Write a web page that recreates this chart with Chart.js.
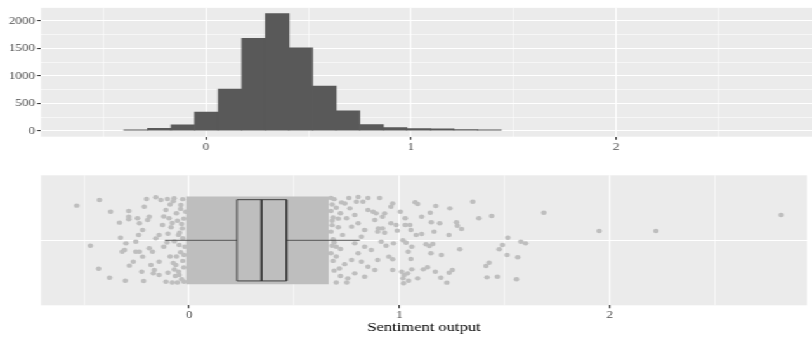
<!DOCTYPE html>
<html>
<head>
<meta charset="utf-8">
<script src="https://cdn.jsdelivr.net/npm/chart.js@4.4.1/dist/chart.umd.min.js"></script>
<style>
  html, body { margin: 0; padding: 0; background: #ffffff; }
  #wrap { position: absolute; left: 0; top: 0; width: 640px; height: 338px; transform: scaleX(1.26875); transform-origin: 0 0; }
  #wrap canvas { position: absolute; left: 0; }
</style>
</head>
<body>
<div id="wrap">
  <canvas id="sentHist" width="640" height="160" style="top:0;width:640px;height:160px"></canvas>
  <canvas id="sentJitter" width="640" height="178" style="top:160px;width:640px;height:178px"></canvas>
</div>
<script>
// Histogram (bins of width 0.115)
const histBinCenters = [-0.3425, -0.2275, -0.1125, 0.0025, 0.1175, 0.2325, 0.3475, 0.4625,
    0.5775, 0.6925, 0.8075, 0.9225, 1.0375, 1.1525, 1.2675, 1.3825];
const histCounts = [20, 45, 110, 340, 760, 1680, 2130, 1510, 815, 365, 113, 60, 40, 38, 22, 20];

// Axis ticks
const histXTicks = [-0.5, 0, 0.5, 1, 1.5, 2, 2.5];
const histYTicks = [0, 250, 500, 750, 1000, 1250, 1500, 1750, 2000];
const jitterXTicks = [-0.5, 0, 0.5, 1, 1.5, 2, 2.5];

// Boxplot summary
const boxQ1 = 0.228;
const boxMedian = 0.345;
const boxQ3 = 0.463;
const whiskerLow = -0.115;
const whiskerHigh = 0.812;

// Dense part of the jittered cloud (too many points to read one by one)
const denseFrom = -0.015;
const denseTo = 0.665;

// Jittered points (x = sentiment, y = jitter)
const jitterX = [
    -0.534, -0.426, -0.373, -0.287, -0.287, -0.287, -0.331, -0.245, -0.202, -0.158, -0.213, -0.189,
    -0.197, -0.236, -0.221, -0.240, -0.326, -0.469, -0.300, -0.253, -0.318, -0.307, -0.253, -0.236,
    -0.221, -0.265, -0.284, -0.430, -0.378, -0.303, -0.225, -0.216, -0.181, -0.170,
    -0.134, -0.103, -0.071, -0.110, -0.095, -0.126, -0.142, -0.158, -0.189, -0.174, -0.142, -0.165,
    -0.142, -0.110, -0.080, -0.055, -0.024, -0.039, -0.016, -0.032, -0.047, -0.024, -0.063, -0.047,
    -0.090, -0.060, -0.080, -0.100, -0.070, -0.120, -0.090, -0.070, -0.100, -0.120, -0.050, -0.060,
    -0.030, -0.040, -0.025, -0.035, -0.045, -0.030, -0.020, -0.040, -0.030, -0.025, -0.050, -0.035,
    -0.075, -0.085, -0.065, -0.105, -0.055, -0.075,
    0.690, 0.700, 0.720, 0.680, 0.710, 0.730, 0.690, 0.720, 0.700, 0.740, 0.690, 0.720, 0.700, 0.750, 0.760,
    0.675, 0.680, 0.675, 0.685, 0.680, 0.675, 0.685, 0.680, 0.675, 0.685, 0.700, 0.710, 0.725, 0.715,
    0.741, 0.765, 0.788, 0.749, 0.804, 0.773, 0.835, 0.820, 0.788, 0.835, 0.804, 0.773, 0.820, 0.851,
    0.788, 0.755, 0.835, 0.883, 0.897, 0.867, 0.914, 0.883, 0.851, 0.827,
    0.804, 0.851, 0.906, 0.796, 0.875, 0.890, 0.930, 0.920, 0.968, 0.960, 1.005, 1.028, 1.075, 1.087,
    1.106, 1.147, 1.173, 1.240, 1.349, 1.378, 1.439, 1.687,
    0.900, 0.920, 0.897, 0.930, 0.960, 0.985, 0.990, 1.028, 1.050, 1.055, 1.080, 1.106, 1.152, 1.192,
    1.165, 1.236, 1.272, 1.276, 1.296,
    1.017, 1.032, 0.972, 0.937, 1.059, 1.127, 1.143, 1.159, 1.042, 1.150, 1.200, 1.287, 1.055, 0.968,
    0.950, 0.968, 1.011, 1.023, 1.039, 1.059, 1.017, 1.044, 1.020, 1.087, 1.114, 1.134, 1.171, 1.197,
    1.226, 1.237, 1.252, 1.412, 1.427, 1.417, 1.466, 1.475, 1.490, 1.512, 1.516, 1.563, 1.578, 1.600,
    1.557, 1.950, 2.220, 2.815
];
const jitterY = [
    0.320, 0.372, 0.264, 0.270, 0.218, 0.194, 0.163, 0.203, 0.381, 0.397, 0.310, 0.218,
    0.187, 0.157, 0.095, 0.049, 0.024, -0.050, -0.028, -0.013, -0.105, -0.090, -0.105, -0.105,
    -0.151, -0.198, -0.234, -0.262, -0.345, -0.373, -0.290, -0.376, -0.228, -0.305,
    0.372, 0.381, 0.388, 0.280, 0.203, 0.141, 0.049, 0.018, -0.074, -0.105, -0.198, -0.274,
    -0.320, -0.382, -0.390, -0.390, -0.382, 0.326, 0.264, 0.110, -0.043, -0.136, -0.228, -0.320,
    0.330, 0.250, 0.160, 0.060, -0.010, -0.060, -0.150, -0.270, -0.300, 0.220, 0.050, -0.150,
    0.380, 0.290, 0.200, 0.150, 0.070, 0.020, -0.060, -0.110, -0.190, -0.250, -0.290, -0.360,
    0.360, 0.120, -0.330, -0.020, 0.180, -0.210,
    0.380, 0.300, 0.250, 0.180, 0.120, 0.050, -0.020, -0.080, -0.150, -0.220, -0.280, -0.330, -0.390, -0.390, 0.390,
    0.390, 0.330, 0.270, 0.210, 0.140, 0.080, 0.010, -0.050, -0.120, -0.190, -0.060, 0.200, 0.350, -0.260,
    0.340, 0.295, 0.234, 0.203, 0.157, 0.126, 0.095, 0.033, -0.028, -0.059, -0.120, -0.182, -0.198, -0.244,
    -0.305, -0.351, -0.336, -0.274, -0.182, -0.090, -0.013, 0.187, 0.280, 0.356,
    0.400, 0.390, 0.390, 0.356, 0.264, 0.249, 0.249, 0.218, 0.340, 0.310, 0.264, 0.203, 0.351, 0.335,
    0.218, 0.255, 0.317, 0.295, 0.356, 0.203, 0.224, 0.255,
    0.110, 0.110, 0.080, 0.070, 0.157, 0.141, 0.089, 0.141, 0.141, 0.095, 0.049, 0.058, 0.166, 0.157,
    0.080, 0.049, 0.166, 0.135, 0.104,
    0.000, -0.022, -0.028, -0.050, -0.059, -0.037, -0.053, -0.034, -0.105, -0.120, -0.136, -0.083, -0.173, -0.175,
    -0.151, -0.274, -0.290, -0.320, -0.305, -0.268, -0.351, -0.373, -0.397, -0.351, -0.268, -0.249, -0.290, -0.345,
    -0.391, -0.299, -0.274, -0.237, -0.207, -0.342, -0.336, -0.083, -0.043, -0.136, 0.024, -0.157, -0.013, -0.028,
    -0.360, 0.086, 0.086, 0.234
];

const serif = 'Liberation Serif';
const boxHalf = 0.375;
const cloudHalf = 0.405;

// grey panel behind the grid, ggplot style
const panelBg = {
    id: 'panelBg',
    beforeDraw(chart) {
        const { ctx, chartArea: a } = chart;
        ctx.save();
        ctx.fillStyle = '#EBEBEB';
        ctx.fillRect(a.left, a.top, a.right - a.left, a.bottom - a.top);
        ctx.restore();
    }
};

function isMajor(v, step) {
    return Math.abs(v / step - Math.round(v / step)) < 1e-6;
}

function _grid(step) {
    return {
        color: '#FFFFFF',
        lineWidth: c => (c.tick && isMajor(c.tick.value, step)) ? 1.1 : 0.55,
        tickColor: c => (c.tick && isMajor(c.tick.value, step)) ? '#333333' : 'rgba(0,0,0,0)',
        tickLength: 3,
        drawTicks: true
    };
}

function _tickFont() {
    return { family: serif, size: 10.4 };
}

// Histograma
new Chart(document.getElementById('sentHist').getContext('2d'), {
    type: 'bar',
    data: {
        datasets: [{
            data: histBinCenters.map((c, i) => ({ x: c, y: histCounts[i] })),
            backgroundColor: '#595959',
            borderWidth: 0,
            barPercentage: 1,
            categoryPercentage: 1
        }]
    },
    options: {
        responsive: false,
        animation: false,
        layout: { padding: { top: 7, left: 0, right: 0, bottom: 0 } },
        plugins: { legend: { display: false }, tooltip: { enabled: false } },
        scales: {
            x: {
                type: 'linear',
                min: -0.805,
                max: 2.956,
                offset: false,
                afterBuildTicks: s => { s.ticks = histXTicks.map(v => ({ value: v })); },
                afterFit: s => { s.height = 23.3; },
                ticks: {
                    autoSkip: false, maxRotation: 0, padding: 1, color: '#4D4D4D', font: _tickFont(),
                    callback: v => isMajor(v, 1) ? String(v) : ''
                },
                grid: Object.assign(_grid(1), { offset: false }),
                border: { display: false }
            },
            y: {
                min: -106.5,
                max: 2236.5,
                afterBuildTicks: s => { s.ticks = histYTicks.map(v => ({ value: v })); },
                afterFit: s => { s.width = 32.3; },
                ticks: {
                    autoSkip: false, padding: 1.6, color: '#4D4D4D', font: _tickFont(),
                    callback: v => isMajor(v, 500) ? String(v) : ''
                },
                grid: _grid(500),
                border: { display: false }
            }
        }
    },
    plugins: [panelBg]
});

// Boxplot + jitter
const pointsData = jitterX.map((x, i) => ({ x: x, y: jitterY[i] }));

function _line(data, color, width, order, extra) {
    return Object.assign({
        type: 'scatter',
        data: data,
        showLine: true,
        borderColor: color,
        borderWidth: width,
        pointRadius: 0,
        fill: false,
        order: order
    }, extra || {});
}

new Chart(document.getElementById('sentJitter').getContext('2d'), {
    type: 'scatter',
    data: {
        datasets: [
            // caja: borde y mediana
            _line([{ x: boxQ1, y: -boxHalf }, { x: boxQ1, y: boxHalf }, { x: boxQ3, y: boxHalf },
                   { x: boxQ3, y: -boxHalf }, { x: boxQ1, y: -boxHalf }], '#333333', 0.9, 0),
            _line([{ x: boxMedian, y: -boxHalf }, { x: boxMedian, y: boxHalf }], '#333333', 1.6, 0),
            // relleno de la caja (entre borde superior e inferior)
            _line([{ x: boxQ1, y: boxHalf }, { x: boxQ3, y: boxHalf }], 'rgba(0,0,0,0)', 0, 1,
                  { fill: '+1', backgroundColor: '#BEBEBE' }),
            _line([{ x: boxQ1, y: -boxHalf }, { x: boxQ3, y: -boxHalf }], 'rgba(0,0,0,0)', 0, 1),
            // bigotes
            _line([{ x: whiskerLow, y: 0 }, { x: boxQ1, y: 0 }], '#555555', 1, 2),
            _line([{ x: boxQ3, y: 0 }, { x: whiskerHigh, y: 0 }], '#555555', 1, 2),
            // puntos sueltos
            {
                type: 'scatter',
                data: pointsData,
                pointRadius: 2.2,
                pointBackgroundColor: '#BEBEBE',
                pointBorderWidth: 0,
                order: 8
            },
            // nube densa
            _line([{ x: denseFrom, y: cloudHalf }, { x: denseTo, y: cloudHalf }], 'rgba(0,0,0,0)', 0, 9,
                  { fill: '+1', backgroundColor: '#BEBEBE' }),
            _line([{ x: denseFrom, y: -cloudHalf }, { x: denseTo, y: -cloudHalf }], 'rgba(0,0,0,0)', 0, 9)
        ]
    },
    options: {
        responsive: false,
        animation: false,
        layout: { padding: { top: 15.3, left: 0, right: 0, bottom: 0 } },
        plugins: { legend: { display: false }, tooltip: { enabled: false } },
        scales: {
            x: {
                type: 'linear',
                min: -0.704,
                max: 2.938,
                afterBuildTicks: s => { s.ticks = jitterXTicks.map(v => ({ value: v })); },
                afterFit: s => { s.height = 32.7; },
                ticks: {
                    autoSkip: false, maxRotation: 0, padding: 1, color: '#4D4D4D', font: _tickFont(),
                    callback: v => isMajor(v, 1) ? String(v) : ''
                },
                grid: _grid(1),
                border: { display: false },
                title: {
                    display: true,
                    text: 'Sentiment output',
                    color: '#000000',
                    font: { family: serif, size: 13 },
                    padding: { top: 0, bottom: 2.5 }
                }
            },
            y: {
                min: -0.6,
                max: 0.6,
                afterBuildTicks: s => { s.ticks = [{ value: 0 }]; },
                afterFit: s => { s.width = 32.3; },
                ticks: { display: true, callback: () => '', font: _tickFont() },
                grid: {
                    color: '#FFFFFF',
                    lineWidth: 1.1,
                    tickColor: 'rgba(0,0,0,0)',
                    tickLength: 3
                },
                border: { display: false }
            }
        }
    },
    plugins: [panelBg]
});
</script>
</body>
</html>
